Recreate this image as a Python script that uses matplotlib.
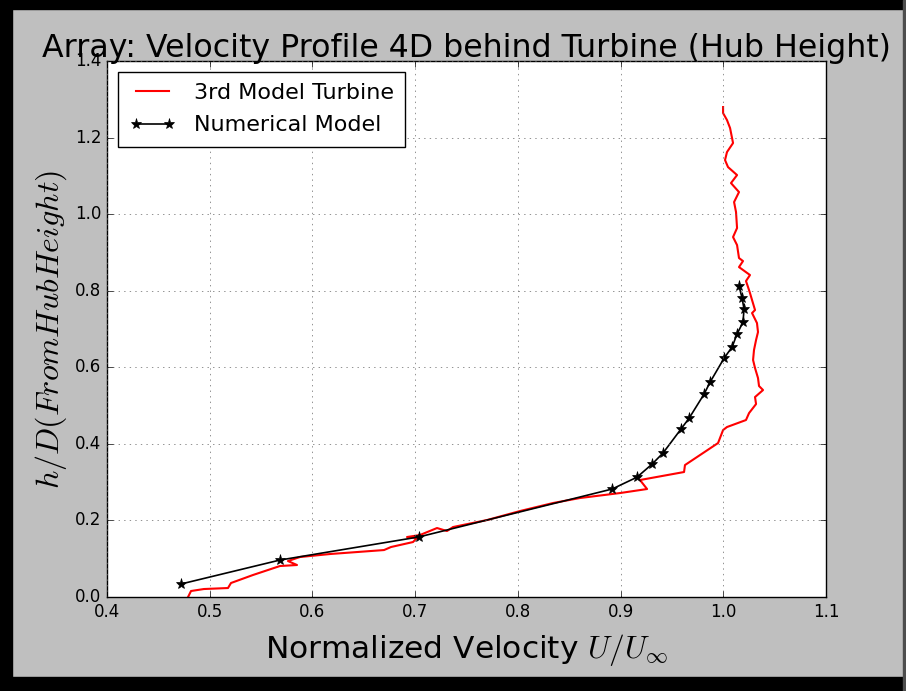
import matplotlib
matplotlib.use('Agg')
import matplotlib.pyplot as plt
from matplotlib.patches import Rectangle

# measured profile (3rd model turbine), U/U_inf vs h/D
exp_u = [0.4789, 0.4818, 0.4944, 0.5178, 0.5207, 0.5421, 0.5684, 0.5850, 0.5762, 0.5879,
         0.6171, 0.6697, 0.6765, 0.6979, 0.7018, 0.6921, 0.7047, 0.7213, 0.7310, 0.7369,
         0.7700, 0.8021, 0.8342, 0.8605, 0.8995, 0.9258, 0.9189, 0.9618, 0.9627, 0.9803,
         0.9920, 0.9949, 0.9998, 1.0036, 1.0221, 1.0251, 1.0319, 1.0309, 1.0387, 1.0348,
         1.0338, 1.0309, 1.0290, 1.0299, 1.0319, 1.0338, 1.0328, 1.0280, 1.0309, 1.0280,
         1.0260, 1.0241, 1.0221, 1.0260, 1.0153, 1.0192, 1.0153, 1.0134, 1.0095, 1.0134,
         1.0124, 1.0105, 1.0153, 1.0075, 1.0134, 1.0046, 1.0017, 1.0036, 1.0095, 1.0066,
         1.0036, 0.9998, 0.9998]
exp_h = [0.000, 0.0157, 0.0209, 0.0235, 0.0366, 0.0575, 0.0810, 0.0836, 0.0940, 0.1045,
         0.1123, 0.1227, 0.1306, 0.1436, 0.1541, 0.1567, 0.1619, 0.1802, 0.1724, 0.1828,
         0.2011, 0.2246, 0.2455, 0.2586, 0.2716, 0.2821, 0.3056, 0.3265, 0.3447, 0.3761,
         0.3970, 0.4022, 0.4361, 0.4440, 0.4623, 0.4805, 0.5040, 0.5223, 0.5406, 0.5511,
         0.5720, 0.5981, 0.6190, 0.6451, 0.6712, 0.6921, 0.7156, 0.7417, 0.7496, 0.7757,
         0.7939, 0.8096, 0.8253, 0.8410, 0.8618, 0.8775, 0.8854, 0.9193, 0.9402, 0.9637,
         1.0055, 1.0316, 1.0577, 1.0812, 1.1021, 1.1230, 1.1413, 1.1622, 1.1857, 1.2249,
         1.2458, 1.2640, 1.2797]

# numerical model
num_u = [0.472, 0.5684, 0.7038, 0.8917, 0.916, 0.9306, 0.9413, 0.9589, 0.9667, 0.9813,
         0.9871, 1.0008, 1.0086, 1.0134, 1.0192, 1.0202, 1.0183, 1.0153]
num_h = [0.034, 0.0966, 0.157, 0.282, 0.313, 0.347, 0.376, 0.439, 0.467, 0.530,
         0.561, 0.624, 0.653, 0.687, 0.718, 0.752, 0.781, 0.812]

plt.style.use('classic')

fig = plt.figure(figsize=(9.06, 6.91), dpi=100)
ax = fig.add_axes([0.1181, 0.1360, 0.7936, 0.7757])

ax.plot(exp_u, exp_h, color='red', linewidth=1.5, label='3rd Model Turbine')
ax.plot(num_u, num_h, color='black', marker='*', markersize=8, linewidth=1.2,
        label='Numerical Model')

ax.set_xlim(0.4, 1.1)
ax.set_ylim(0.0, 1.4)
ax.grid(True, color='0.4', linestyle=':')
ax.tick_params(labelsize=12)

ax.set_title('Array: Velocity Profile 4D behind Turbine (Hub Height)', fontsize=22.8, pad=3)
ax.set_xlabel(r'Normalized Velocity $U/U_\infty$', fontsize=22.5, labelpad=8)
ax.set_ylabel(r'$h/D(From Hub Height)$', fontsize=23, labelpad=4)

leg = ax.legend(loc='upper left', fontsize=16, numpoints=2, handlelength=2.1,
                borderaxespad=0.5, labelspacing=0.55, borderpad=0.5)

# black frame round the figure
fig.patches.append(Rectangle((0, 0), 12 / 906, 1, transform=fig.transFigure, color='black'))
fig.patches.append(Rectangle((0, 1 - 9 / 691), 1, 9 / 691, transform=fig.transFigure, color='black'))
fig.patches.append(Rectangle((0, 0), 1, 14 / 691, transform=fig.transFigure, color='black'))
fig.patches.append(Rectangle((1 - 3 / 906, 0), 3 / 906, 1, transform=fig.transFigure, color='0.3'))

fig.savefig('out.png', dpi=100, facecolor=fig.get_facecolor())
